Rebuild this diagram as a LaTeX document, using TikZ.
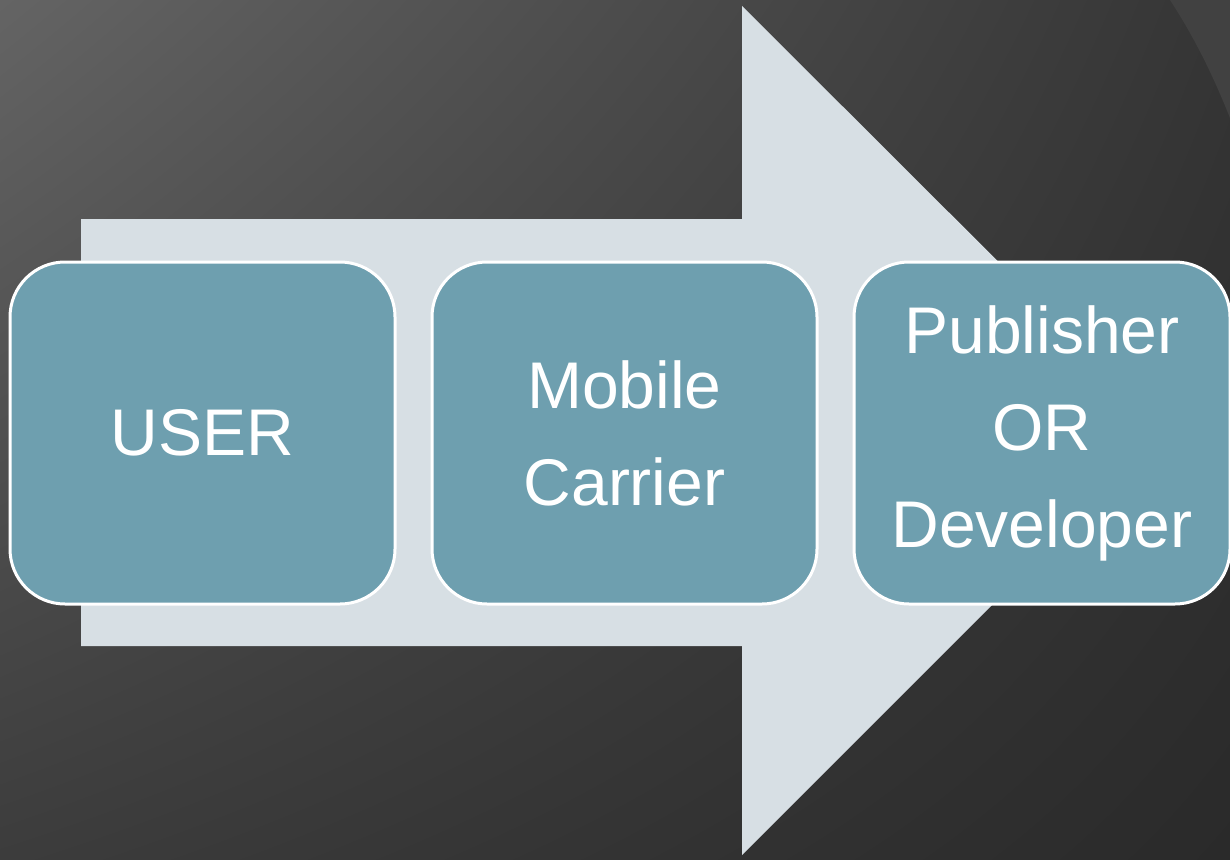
\documentclass[tikz,border=0pt]{standalone}
\usepackage{fontspec}
\setmainfont{Liberation Sans}
\usetikzlibrary{positioning,shadings}
\definecolor{bgdark}{HTML}{2A2A2A}
\definecolor{bglight}{HTML}{646464}
\definecolor{bgmid}{HTML}{3C3C3C}
\definecolor{bgcorner}{HTML}{353535}
\definecolor{bgarc}{HTML}{414141}
\definecolor{arrowgrey}{HTML}{D7DFE4}
\definecolor{stageblue}{HTML}{6E9FAF}
\begin{document}
\begin{tikzpicture}[x=1pt,y=-1pt,
    stage/.style={draw=white, line width=3pt, fill=stageblue, rounded corners=55pt,
      minimum width=385pt, minimum height=342pt, inner sep=0pt, align=center,
      text=white, font=\fontsize{66}{97}\selectfont},
    node distance=34pt]
	  % Background
	  \useasboundingbox (0,0) rectangle (1230,859);
	  \shade[upper left=bglight, upper right=bgcorner, lower left=bgmid, lower right=bgdark]
	    (0,0) rectangle (1230,859);
	  \fill[bgarc] (1170,0) .. controls (1196,40) and (1214,78) .. (1230,118) -- (1230,0) -- cycle;

	  % Big arrow
	  \fill[arrowgrey] (81,219) -- (742,219) -- (742,6) -- (1167,430) -- (742,855)
	    -- (742,646) -- (81,646) -- cycle;

	  % Define nodes
	  \node[stage] (user) at (202.5,433) {USER};
	  \node[stage, right=of user] (carrier) {Mobile\\Carrier};
	  \node[stage, right=of carrier, minimum width=376pt] (publisher) {Publisher\\OR\\Developer};
	\end{tikzpicture}
\end{document}
